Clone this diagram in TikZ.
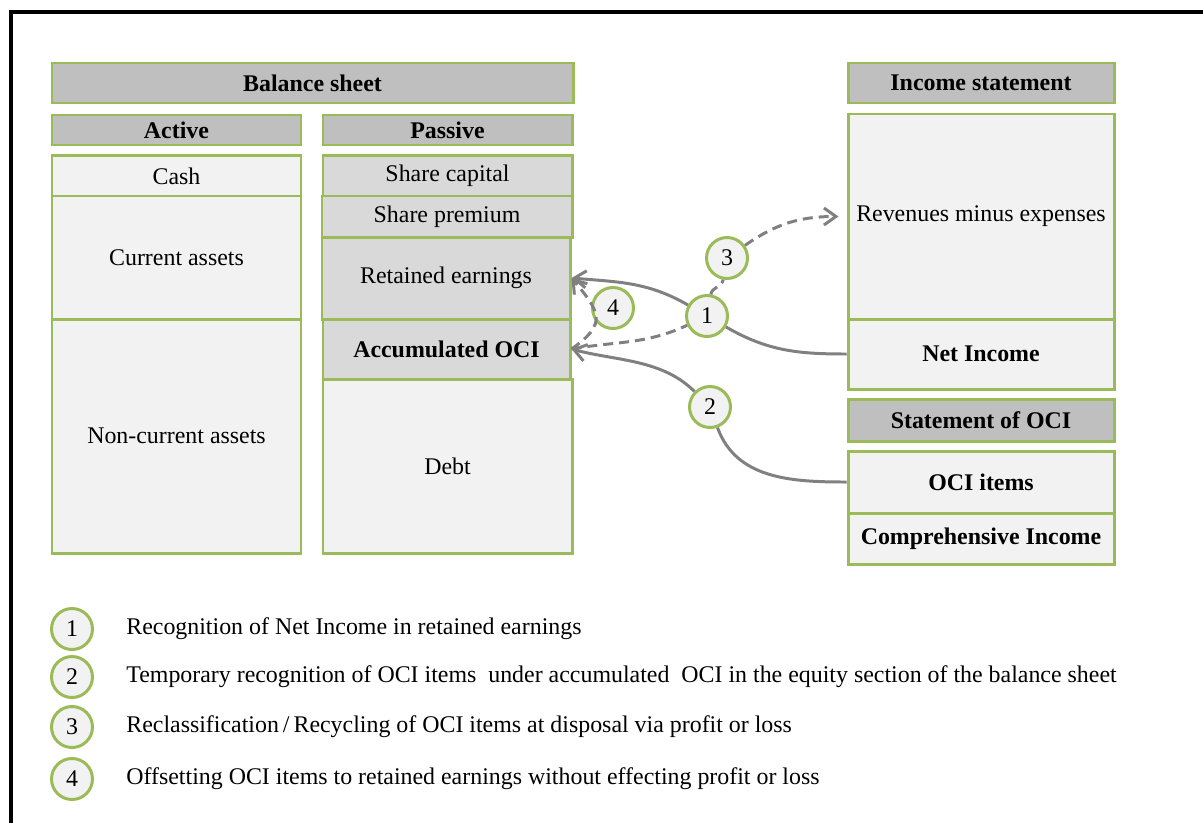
\documentclass[tikz,border=0pt]{standalone}
\usepackage{fontspec}
\setmainfont{Liberation Serif}
\usetikzlibrary{arrows.meta}
\definecolor{ocigreen}{HTML}{9BBB59}
\definecolor{hdrgray}{HTML}{BFBFBF}
\definecolor{eqgray}{HTML}{D9D9D9}
\definecolor{cellgray}{HTML}{F2F2F2}
\definecolor{flowgray}{HTML}{808080}

\begin{document}
\begin{tikzpicture}[
      x=0.02cm, y=-0.02cm,
      font=\fontsize{13.6}{16}\selectfont,
      sz/.style 2 args={minimum width=#1*0.02cm,minimum height=#2*0.02cm},
      cell/.style={draw=ocigreen,line width=1.7pt,fill=cellgray,inner sep=0pt},
      hdr/.style={cell,fill=hdrgray,font=\fontsize{13.6}{16}\selectfont\bfseries},
      eq/.style={cell,fill=eqgray},
      num/.style={circle,draw=ocigreen,line width=1.7pt,fill=cellgray,minimum size=0.82cm,inner sep=0pt},
      flow/.style={-{Straight Barb[length=0.24cm,width=0.34cm]},line width=1.7pt,flowgray},
      recycle/.style={flow,dash pattern=on 0.2cm off 0.12cm}
    ]
      \useasboundingbox (0,0) rectangle (1203,822);
      \draw[line width=0.08cm] (11,840) -- (11,12) -- (1220,12);

      % balance sheet
      \node[hdr,sz={521}{40}] (bs) at (312.5,83) {Balance sheet};
      \node[hdr,sz={249}{30}] (act) at (176.5,130) {Active};
      \node[hdr,sz={249}{30}] (pas) at (447.5,130) {Passive};
      \node[cell,sz={249}{41}] (cash) at (176.5,176) {Cash};
      \node[cell,sz={249}{123}] (cur) at (176.5,257.5) {Current assets};
      \node[cell,sz={249}{234}] (ncur) at (176.5,436) {Non-current assets};
      \node[eq,sz={249}{41}] (shc) at (447.5,176) {Share capital};
      \node[eq,sz={250}{41}] (shp) at (447,216.5) {Share premium};
      \node[eq,sz={248}{82}] (re) at (446,278) {Retained earnings};
      \node[eq,sz={247}{60}] (aoci) at (446.5,349) {\textbf{Accumulated OCI}};
      \node[cell,sz={249}{174}] (debt) at (447.5,466) {Debt};

      % income statement and OCI
      \node[hdr,sz={266}{40}] (is) at (981,83) {Income statement};
      \node[cell,sz={266}{205}] (rev) at (981,216.5) {Revenues minus expenses};
      \node[cell,sz={266}{70}] (ni) at (981,354) {\textbf{Net Income}};
      \node[hdr,sz={266}{42}] (soci) at (981,420) {Statement of OCI};
      \node[cell,sz={266}{62}] (oci) at (981,482) {\textbf{OCI items}};
      \node[cell,sz={266}{51}] (ci) at (981,538.5) {\textbf{Comprehensive Income}};

      % numbered steps
      \node[num] (c3) at (727,258) {3};
      \node[num] (c4) at (613,308) {4};
      \node[num] (c1) at (707,316) {1};
      \node[num] (c2) at (710,407) {2};

      \draw[flow] (ni.west) to[out=180,in=-30] (c1) to[out=150,in=-5] (re.east);
      \draw[flow] (oci.west) to[out=180,in=-70] (c2) to[out=135,in=-15,looseness=0.9] (aoci.east);
      \draw[recycle] (aoci.east) to[out=10,in=205] (c1) to[out=80,in=-100] (c3)
        to[out=35,in=180] ([xshift=-0.16cm]rev.west);
      \draw[recycle] (aoci.east) to[out=35,in=-50,looseness=1.6] (re.east);

      % legend
      \foreach \i/\y/\txt in {
        1/629/{Recognition of Net Income in retained earnings},
        2/677/{Temporary recognition of OCI items \ under accumulated \ OCI in the equity section of the balance sheet},
        3/727/{Reclassification\,/\,Recycling of OCI items at disposal via profit or loss},
        4/779/{Offsetting OCI items to retained earnings without effecting profit or loss}} {
        \node[num] (l\i) at (72,\y) {\i};
        \node[anchor=west,inner sep=0pt] (t\i) at (126,\y) {\txt};
      }
    \end{tikzpicture}
\end{document}
